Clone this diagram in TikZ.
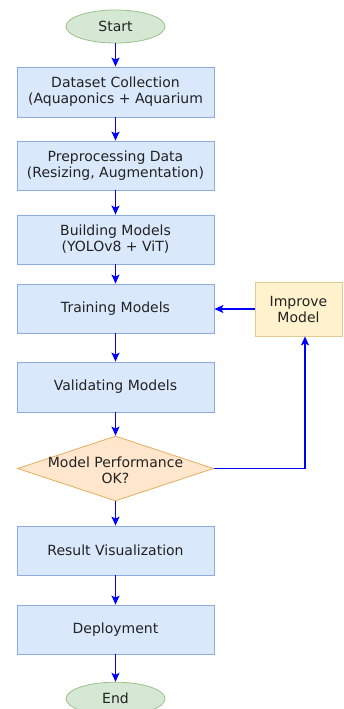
\documentclass[tikz,border=0pt]{standalone}
\usepackage{fontspec}
\setmainfont{DejaVu Sans}
\usetikzlibrary{shapes.geometric,arrows.meta}
\definecolor{boxfill}{HTML}{DAE8FC}
\definecolor{boxline}{HTML}{8FAADC}
\definecolor{termfill}{HTML}{D5E8D4}
\definecolor{termline}{HTML}{9DC08B}
\definecolor{decfill}{HTML}{FFE6CC}
\definecolor{decline}{HTML}{E0B060}
\definecolor{impfill}{HTML}{FFF2CC}
\definecolor{impline}{HTML}{E0CC90}
\definecolor{flow}{HTML}{0000FF}
\definecolor{txt}{HTML}{222222}
\begin{document}
\begin{tikzpicture}[x=1pt,y=1pt,
  font=\fontsize{14}{16}\selectfont, text=txt,
  procbox/.style={rectangle, draw=boxline, fill=boxfill, line width=0.8pt,
    minimum width=197pt, minimum height=49pt, inner sep=0pt, align=center},
  term/.style={ellipse, draw=termline, fill=termfill, line width=0.8pt,
    minimum width=99pt, minimum height=33pt, inner sep=0pt},
  decision/.style={diamond, draw=decline, fill=decfill, line width=0.8pt,
    minimum width=196pt, minimum height=65pt, inner sep=0pt},
  impbox/.style={rectangle, draw=impline, fill=impfill, line width=0.8pt,
    minimum width=87pt, minimum height=54pt, inner sep=0pt, align=center},
  flowarrow/.style={draw=flow, line width=1.4pt,
    -{Stealth[length=9pt,width=8pt,inset=2pt]}}
]
\useasboundingbox (0,0) rectangle (343,-709);
\clip (0,0) rectangle (343,-709);
\fill[white] (0,0) rectangle (343,-709);

\node[term] (start) at (115.5,-26.5) {Start};
\node[procbox, minimum height=50pt] (b1) at (115.5,-92) {Dataset Collection\\(Aquaponics + Aquarium};
\node[procbox] (b2) at (115.5,-165.5) {Preprocessing Data\\(Resizing, Augmentation)};
\node[procbox] (b3) at (115.5,-239.5) {Building Models\\(YOLOv8 + ViT)};
\node[procbox] (b4) at (115.5,-308.5) {Training Models};
\node[impbox] (imp) at (298.5,-309) {Improve\\Model};
\node[procbox, minimum height=50pt] (b5) at (115.5,-387) {Validating Models};
\node[decision] (dec) at (115.5,-468.5) {};
\node[align=center] (dectext) at (115.5,-470.5) {Model Performance\\OK?};
\node[procbox] (b6) at (115.5,-550.5) {Result Visualization};
\node[procbox] (b7) at (115.5,-629.5) {Deployment};
\node[term] (end) at (115.5,-698.7) {End};

\draw[flowarrow] (start) -- (b1);
\draw[flowarrow] (b1) -- (b2);
\draw[flowarrow] (b2) -- (b3);
\draw[flowarrow] (b3) -- (b4);
\draw[flowarrow] (b4) -- (b5);
\draw[flowarrow] (b5) -- (dec);
\draw[flowarrow] (dec) -- (b6);
\draw[flowarrow] (b6) -- (b7);
\draw[flowarrow] (b7) -- (end);
\draw[flowarrow] (imp.west) -- (imp.west -| b4.east);
\coordinate (fb) at (305,-468.5);
\draw[flowarrow] (dec.east) -- (fb) -- (fb |- imp.south);
\end{tikzpicture}
\end{document}
